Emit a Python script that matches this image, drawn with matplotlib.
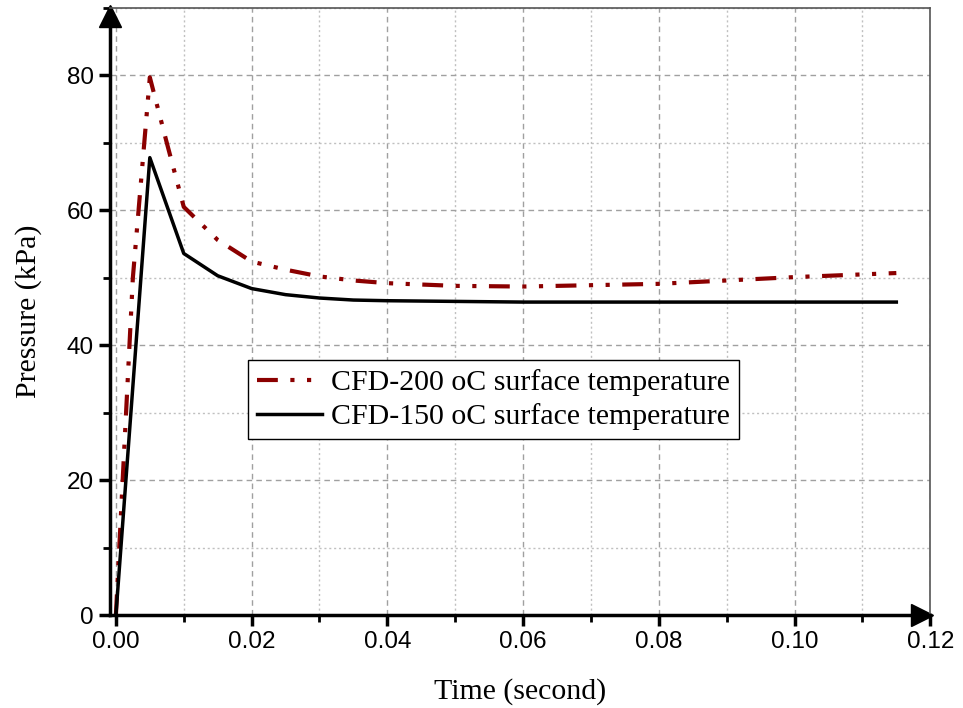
import matplotlib.pyplot as plt
import numpy as np
from matplotlib.ticker import MultipleLocator, FormatStrFormatter
from matplotlib.transforms import offset_copy

# pressure vs time
t_200 = [0.0, 0.0025, 0.005, 0.0075, 0.01, 0.015, 0.02, 0.025, 0.03, 0.035, 0.04,
         0.05, 0.06, 0.07, 0.08, 0.09, 0.10, 0.115]
p_200 = [0.0, 50.0, 79.7, 70.0, 60.5, 55.6, 52.4, 51.2, 50.2, 49.6, 49.2,
         48.8, 48.7, 48.9, 49.1, 49.6, 50.1, 50.7]

t_150 = [0.0, 0.005, 0.01, 0.015, 0.02, 0.025, 0.03, 0.035, 0.04, 0.05, 0.06,
         0.07, 0.08, 0.09, 0.10, 0.115]
p_150 = [0.0, 67.8, 53.6, 50.3, 48.4, 47.5, 47.0, 46.7, 46.6, 46.5, 46.4,
         46.4, 46.4, 46.4, 46.4, 46.4]

label_200 = 'CFD-200 oC surface temperature'
label_150 = 'CFD-150 oC surface temperature'

fig = plt.figure(figsize=(9.63, 7.08), dpi=100)
ax = fig.add_axes([0.114, 0.131, 0.852, 0.858])

ax.plot(t_200, p_200, color='#8b0000', lw=3, dashes=(5, 3, 1, 3, 1, 3), label=label_200)
ax.plot(t_150, p_150, color='black', lw=2.5, label=label_150)

ax.set_xlim(-0.0009, 0.12)
ax.set_ylim(0, 90)
ax.xaxis.set_major_locator(MultipleLocator(0.02))
ax.xaxis.set_minor_locator(MultipleLocator(0.01))
ax.yaxis.set_major_locator(MultipleLocator(20))
ax.yaxis.set_minor_locator(MultipleLocator(10))
ax.xaxis.set_major_formatter(FormatStrFormatter('%.2f'))

ax.grid(which='major', color='#a0a0a0', ls=(0, (4, 3)), lw=1)
ax.grid(which='minor', color='#c0c0c0', ls=(0, (1.5, 2)), lw=1)
ax.set_axisbelow(True)

for s in ['left', 'bottom']:
    ax.spines[s].set_linewidth(2.5)
for s in ['top', 'right']:
    ax.spines[s].set_linewidth(1.2)
    ax.spines[s].set_color('#555555')

ax.tick_params(which='major', direction='out', length=8, width=2.5, labelsize=17.5,
               top=False, right=False)
ax.tick_params(which='minor', direction='out', length=5, width=2,
               top=False, right=False)
for lab in ax.get_xticklabels() + ax.get_yticklabels():
    lab.set_fontfamily('Liberation Sans')

# arrow heads at axis ends, tips on the axes corners
up = offset_copy(ax.transAxes, fig=fig, y=-8, units='dots')
right = offset_copy(ax.transAxes, fig=fig, x=-8, units='dots')
ax.plot([0], [1], marker='^', ms=16, color='black', transform=up, clip_on=False)
ax.plot([1], [0], marker='>', ms=16, color='black', transform=right, clip_on=False)

ax.set_xlabel('Time (second)', family='Liberation Serif', fontsize=21.5, labelpad=18)
ax.set_ylabel('Pressure (kPa)', family='Liberation Serif', fontsize=21.5, labelpad=18)

leg = ax.legend(loc='upper left', bbox_to_anchor=(0.168, 0.42), fancybox=False,
                edgecolor='black', framealpha=1, handlelength=2.2,
                prop={'family': 'Liberation Serif', 'size': 21.5},
                borderpad=0.3, labelspacing=0.25, handletextpad=0.3,
                borderaxespad=0)
leg.get_frame().set_linewidth(1)

fig.savefig('out.png', dpi=100)
